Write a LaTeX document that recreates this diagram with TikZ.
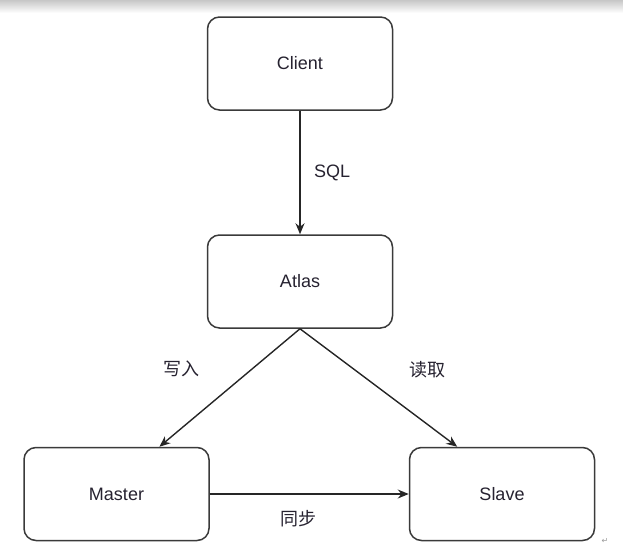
\documentclass[tikz,border=0pt]{standalone}
\usepackage{fontspec}
\setmainfont{Liberation Sans}
\newfontfamily\cjk{Noto Sans CJK SC}
\newfontfamily\symfont{DejaVu Sans}
\usepackage{xcolor}
\usepackage{tikz}
\usetikzlibrary{calc,arrows.meta}

\definecolor{boxline}{HTML}{3A3A3A}
\definecolor{txt}{HTML}{262230}

\begin{document}
\begin{tikzpicture}[x=1pt, y=-1pt,
      box/.style={draw=boxline, line width=1.5pt, rounded corners=12pt,
                  minimum width=185pt, minimum height=93pt, fill=white,
                  align=center, text=txt, font=\fontsize{18}{21}\selectfont},
      arrow/.style={-{Stealth[length=11pt, width=9pt]}, line width=1.4pt, draw=black!85},
      lbl/.style={text=txt, font=\fontsize{18}{21}\selectfont},
      cjklbl/.style={text=txt, font=\cjk\fontsize{18}{21}\selectfont},
    ]

    \useasboundingbox (0,0) rectangle (623,549);

    % grey band at the top
    \shade[top color=black!22, bottom color=white] (0,0) rectangle (623,13);

    % Client
    \node[box] (client) at (300,63.5) {Client};

    % Atlas
    \node[box] (atlas) at (300,281.5) {Atlas};

    % Master
    \node[box] (master) at (116.5,494) {Master};

    % Slave
    \node[box] (slave) at (502,494) {Slave};

    % Arrows
    \draw[arrow] (client) -- (atlas) node[midway, right=10pt, lbl]{SQL};
    \draw[arrow] (atlas.south) -- ($(master.north west)!0.73!(master.north east)$)
        node[midway, xshift=-48pt, yshift=19pt, cjklbl]{写入};
    \draw[arrow] (atlas.south) -- ($(slave.north west)!0.26!(slave.north east)$)
        node[midway, xshift=49pt, yshift=18pt, cjklbl]{读取};
    \draw[arrow] (master) -- (slave) node[midway, yshift=-25pt, xshift=-11pt, cjklbl]{同步};

    % paragraph mark
    \node[text=black!40, font=\symfont\fontsize{8}{9}\selectfont] (mark) at (605,541) {↵};

  \end{tikzpicture}
\end{document}
